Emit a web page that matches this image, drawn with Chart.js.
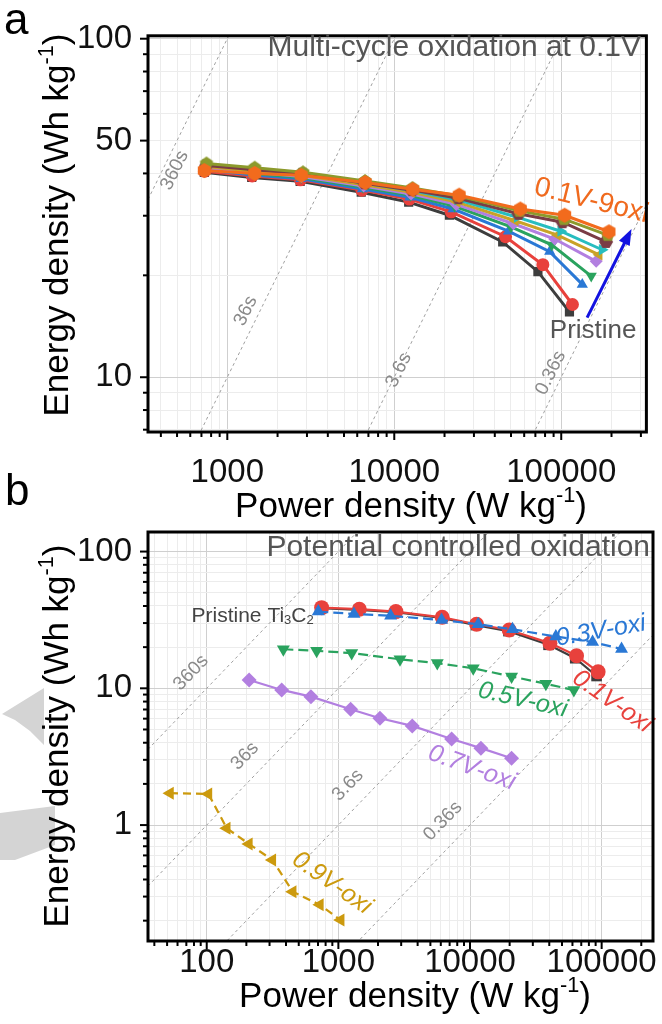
<!DOCTYPE html>
<html>
<head>
<meta charset="utf-8">
<script src="https://cdn.jsdelivr.net/npm/chart.js@4.4.1/dist/chart.umd.min.js"></script>
<style>
  html, body { margin: 0; padding: 0; background: #fff; }
  body { width: 662px; height: 1024px; position: relative; overflow: hidden; }
  canvas { position: absolute; left: 0; }
  #chartA { top: 0; }
  #chartB { top: 470px; }
</style>
</head>
<body>
<canvas id="chartA" width="662" height="540"></canvas>
<canvas id="chartB" width="662" height="554"></canvas>
<script>
const FONT = '"Liberation Sans", Arial, sans-serif';

// ---- panel a: multi-cycle oxidation at 0.1V ----
const namesA = ["Pristine", "0.1V-1oxi", "0.1V-2oxi", "0.1V-3oxi", "0.1V-4oxi",
  "0.1V-5oxi", "0.1V-6oxi", "0.1V-7oxi", "0.1V-8oxi", "0.1V-9oxi"];
const powerA = [
  [728, 1400, 2730, 6340, 12200, 21400, 44600, 72500, 112000],
  [730, 1410, 2740, 6400, 12300, 21900, 46400, 77600, 116700],
  [735, 1420, 2760, 6450, 12400, 22500, 48300, 85300, 133700],
  [738, 1430, 2770, 6500, 12500, 23000, 50000, 87700, 151200],
  [740, 1440, 2780, 6550, 12600, 23500, 51700, 91400, 161900],
  [742, 1445, 2790, 6600, 12700, 23800, 53000, 95000, 168700],
  [745, 1450, 2800, 6620, 12750, 24000, 54500, 99300, 175800],
  [748, 1455, 2820, 6650, 12800, 24200, 55500, 102000, 185500],
  [750, 1460, 2840, 6680, 12850, 24300, 56300, 104000, 190000],
  [728, 1458, 2768, 6700, 12900, 24470, 56900, 104800, 193200]
];
const energyA = [
  [40.3, 38.9, 37.9, 35.2, 32.9, 30.1, 25.1, 20.5, 15.6],
  [40.6, 39.3, 38.3, 35.7, 33.6, 30.8, 26.0, 21.5, 16.4],
  [41.0, 39.6, 38.6, 36.0, 34.0, 31.4, 27.0, 23.5, 18.8],
  [41.3, 40.0, 38.9, 36.4, 34.5, 32.0, 27.8, 24.6, 19.9],
  [41.6, 40.3, 39.2, 36.7, 34.8, 32.4, 28.4, 25.6, 22.0],
  [41.9, 40.6, 39.5, 37.0, 35.2, 32.9, 29.0, 26.3, 23.0],
  [42.5, 41.2, 40.0, 37.5, 35.6, 33.4, 29.7, 27.0, 23.8],
  [42.2, 41.0, 39.9, 37.4, 35.7, 33.8, 30.4, 28.7, 25.1],
  [42.8, 41.6, 40.3, 38.0, 36.2, 34.3, 31.0, 29.3, 26.3],
  [40.8, 40.0, 39.5, 37.6, 35.9, 34.5, 31.4, 30.1, 26.9]
];
const xLabelsA = [1000, 10000, 100000];
const yLabelsA = [10, 50, 100];

// ---- panel b: potential controlled oxidation ----
const namesB = ["Pristine Ti3C2", "0.1V-oxi", "0.3V-oxi", "0.5V-oxi", "0.7V-oxi", "0.9V-oxi"];
const powerB = [
  [740, 1430, 2720, 6100, 11100, 19600, 39500, 63000, 91500],
  [746, 1443, 2735, 6150, 11220, 19850, 40440, 64460, 94000],
  [704, 1313, 2494, 6081, 11540, 21040, 44870, 85300, 141600],
  [382, 684, 1262, 2939, 5640, 10580, 20690, 37690, 61500],
  [210, 371, 619, 1239, 2069, 3641, 7249, 12100, 20690],
  [52.6, 103, 142, 209, 315, 450, 724, 1041]
];
const energyB = [
  [38.5, 37.5, 36.0, 32.7, 29.0, 26.2, 20.8, 16.6, 12.3],
  [38.9, 37.9, 36.4, 33.1, 29.4, 26.7, 21.4, 17.3, 13.2],
  [36.4, 35.0, 33.9, 31.6, 29.4, 27.0, 23.9, 21.8, 19.4],
  [19.3, 18.8, 18.1, 16.3, 15.3, 14.0, 12.2, 10.8, 9.7],
  [11.5, 9.73, 8.69, 7.03, 6.04, 5.31, 4.26, 3.65, 3.08],
  [1.71, 1.69, 0.948, 0.728, 0.556, 0.326, 0.261, 0.202]
];
const xLabelsB = [100, 1000, 10000, 100000];
const yLabelsB = [1, 10, 100];

// constant discharge-time guide lines (s)
const isoTimes = [360, 36, 3.6, 0.36];

function polyMarker(color, sides, r, rot) {
  const c = document.createElement("canvas");
  const s = Math.ceil(r * 2 + 2);
  c.width = s; c.height = s;
  const g = c.getContext("2d");
  g.fillStyle = color;
  g.beginPath();
  for (let i = 0; i < sides; i++) {
    const a = rot + i * 2 * Math.PI / sides;
    g.lineTo(s / 2 + r * Math.cos(a), s / 2 + r * Math.sin(a));
  }
  g.closePath();
  g.fill();
  return c;
}

const stylesA = [
  { color: "#3d3d3d", shape: "rect", rot: 0 },
  { color: "#e8413c", shape: "circle", rot: 0 },
  { color: "#2a78d5", shape: "triangle", rot: 0 },
  { color: "#2aa35e", shape: "triangle", rot: 180 },
  { color: "#b27fe0", shape: "rectRot", rot: 0 },
  { color: "#c9a227", shape: "triangle", rot: 270 },
  { color: "#27bdbf", shape: "triangle", rot: 90 },
  { color: "#7a3c45", shape: polyMarker("#7a3c45", 6, 7, 0), rot: 0 },
  { color: "#8c9a2c", shape: polyMarker("#8c9a2c", 5, 7, -Math.PI / 2), rot: 0 },
  { color: "#f26b1d", shape: polyMarker("#f26b1d", 6, 7.5, Math.PI / 6), rot: 0 }
];
const stylesB = [
  { color: "#3d3d3d", shape: "rect", rot: 0, dash: [] },
  { color: "#e8413c", shape: "circle", rot: 0, dash: [] },
  { color: "#2a78d5", shape: "triangle", rot: 0, dash: [10, 5] },
  { color: "#2aa35e", shape: "triangle", rot: 180, dash: [10, 5] },
  { color: "#b27fe0", shape: "rectRot", rot: 0, dash: [] },
  { color: "#cc9a0e", shape: "triangle", rot: 270, dash: [8, 5] }
];

function makeSets(names, powers, energies, styles, lw, r) {
  return names.map((name, i) => ({
    label: name,
    data: powers[i].map((p, j) => ({ x: p, y: energies[i][j] })),
    borderColor: styles[i].color,
    backgroundColor: styles[i].color,
    borderWidth: lw,
    borderDash: styles[i].dash || [],
    pointStyle: styles[i].shape,
    pointRotation: styles[i].rot,
    pointRadius: r,
    pointBackgroundColor: styles[i].color,
    pointBorderColor: styles[i].color,
    pointBorderWidth: 0,
    tension: 0,
    fill: false
  }));
}

function logTicks(lo, hi) {
  const out = [];
  for (let e = Math.floor(Math.log10(lo)); e <= Math.ceil(Math.log10(hi)); e++) {
    for (let m = 1; m <= 9; m++) {
      const v = Number((m * Math.pow(10, e)).toPrecision(6));
      if (v >= lo && v <= hi) out.push(v);
    }
  }
  return out;
}

function isMajor(v) {
  const l = Math.log10(v);
  return Math.abs(l - Math.round(l)) < 1e-9;
}

function fontOf(size, style) { return (style ? style + " " : "") + size + "px " + FONT; }

function drawRuns(ctx, runs, x, y, size, color, deg, align, style) {
  ctx.save();
  ctx.translate(x, y);
  ctx.rotate(deg * Math.PI / 180);
  ctx.fillStyle = color;
  ctx.textBaseline = "middle";
  ctx.textAlign = "left";
  let w = 0;
  runs.forEach(([t, k]) => { ctx.font = fontOf(k ? size * 0.62 : size, style); w += ctx.measureText(t).width; });
  let cx = align === "right" ? -w : align === "left" ? 0 : -w / 2;
  runs.forEach(([t, k]) => {
    ctx.font = fontOf(k ? size * 0.62 : size, style);
    const dy = k === "sup" ? -size * 0.3 : k === "sub" ? size * 0.22 : 0;
    ctx.fillText(t, cx, dy);
    cx += ctx.measureText(t).width;
  });
  ctx.restore();
}

function makeDeco(cfg) {
  const oy = cfg.offsetY || 0;
  return {
    id: "deco",
    beforeDraw(chart) {
      const ctx = chart.ctx;
      if (cfg.shapes) {
        ctx.save();
        ctx.fillStyle = "#d4d4d4";
        cfg.shapes.forEach(pts => {
          ctx.beginPath();
          pts.forEach(([x, y], i) => i ? ctx.lineTo(x, y - oy) : ctx.moveTo(x, y - oy));
          ctx.closePath();
          ctx.fill();
        });
        ctx.restore();
      }
    },
    beforeDatasetsDraw(chart) {
      const ctx = chart.ctx, a = chart.chartArea, xs = chart.scales.x, ys = chart.scales.y;
      ctx.save();
      ctx.beginPath();
      ctx.rect(a.left, a.top, a.right - a.left, a.bottom - a.top);
      ctx.clip();
      ctx.strokeStyle = "#a0a0a0";
      ctx.lineWidth = 1;
      ctx.setLineDash([3, 3]);
      isoTimes.forEach(t => {
        const p1 = xs.min, p2 = xs.max;
        ctx.beginPath();
        ctx.moveTo(xs.getPixelForValue(p1), ys.getPixelForValue(p1 * t / 3600));
        ctx.lineTo(xs.getPixelForValue(p2), ys.getPixelForValue(p2 * t / 3600));
        ctx.stroke();
      });
      ctx.restore();
    },
    afterDatasetsDraw(chart) {
      const ctx = chart.ctx, xs = chart.scales.x, ys = chart.scales.y;
      cfg.isoLabels.forEach(l => {
        const x1 = xs.getPixelForValue(1000), y1 = ys.getPixelForValue(1000 * l.t / 3600);
        const x2 = xs.getPixelForValue(10000), y2 = ys.getPixelForValue(10000 * l.t / 3600);
        const deg = Math.atan2(y2 - y1, x2 - x1) * 180 / Math.PI;
        drawRuns(ctx, [[l.t + "s", ""]], xs.getPixelForValue(l.p), ys.getPixelForValue(l.e), 19, "#8a8a8a", deg, "center");
      });
      cfg.notes.forEach(n => {
        drawRuns(ctx, n.runs, xs.getPixelForValue(n.p), ys.getPixelForValue(n.e), n.size, n.color, n.rot, n.align || "center", n.style);
      });
      if (cfg.arrow) {
        const ar = cfg.arrow;
        const x1 = xs.getPixelForValue(ar.p1), y1 = ys.getPixelForValue(ar.e1);
        const x2 = xs.getPixelForValue(ar.p2), y2 = ys.getPixelForValue(ar.e2);
        const ang = Math.atan2(y2 - y1, x2 - x1);
        ctx.save();
        ctx.strokeStyle = ar.color;
        ctx.fillStyle = ar.color;
        ctx.lineWidth = 3;
        ctx.beginPath();
        ctx.moveTo(x1, y1);
        ctx.lineTo(x2 - 10 * Math.cos(ang), y2 - 10 * Math.sin(ang));
        ctx.stroke();
        ctx.beginPath();
        ctx.moveTo(x2, y2);
        ctx.lineTo(x2 - 16 * Math.cos(ang) + 6 * Math.sin(ang), y2 - 16 * Math.sin(ang) - 6 * Math.cos(ang));
        ctx.lineTo(x2 - 16 * Math.cos(ang) - 6 * Math.sin(ang), y2 - 16 * Math.sin(ang) + 6 * Math.cos(ang));
        ctx.closePath();
        ctx.fill();
        ctx.restore();
      }
    },
    afterDraw(chart) {
      const ctx = chart.ctx, a = chart.chartArea, xs = chart.scales.x, ys = chart.scales.y;
      ctx.save();
      ctx.strokeStyle = "#000";
      ctx.lineWidth = 2;
      xs.ticks.forEach(t => {
        const px = xs.getPixelForValue(t.value);
        const len = cfg.xLabels.includes(t.value) ? 8 : 5;
        ctx.beginPath(); ctx.moveTo(px, a.bottom); ctx.lineTo(px, a.bottom + len); ctx.stroke();
      });
      ys.ticks.forEach(t => {
        const py = ys.getPixelForValue(t.value);
        const len = cfg.yLabels.includes(t.value) ? 8 : 5;
        ctx.beginPath(); ctx.moveTo(a.left, py); ctx.lineTo(a.left - len, py); ctx.stroke();
      });
      ctx.lineWidth = 3;
      ctx.strokeRect(a.left, a.top, a.right - a.left, a.bottom - a.top);
      ctx.restore();

      drawRuns(ctx, [[cfg.title.text, ""]], cfg.title.x, cfg.title.y - oy, 30, "#555", 0, "right");
      drawRuns(ctx, [["Power density (W kg", ""], ["-1", "sup"], [")", ""]], cfg.xTitle.x, cfg.xTitle.y - oy, 35, "#000", 0, "center");
      drawRuns(ctx, [["Energy density (Wh kg", ""], ["-1", "sup"], [")", ""]], cfg.yTitle.x, cfg.yTitle.y - oy, 35, "#000", -90, "center");
      ctx.save();
      ctx.fillStyle = "#000";
      ctx.font = fontOf(44);
      ctx.textBaseline = "alphabetic";
      ctx.textAlign = "left";
      ctx.fillText(cfg.letter.text, cfg.letter.x, cfg.letter.y - oy);
      ctx.restore();
    }
  };
}

function gridColor(c) {
  return c.tick && isMajor(c.tick.value) ? "#cfcfcf" : "#ececec";
}

function makeChart(id, sets, lim, lab, dims, deco) {
  return new Chart(document.getElementById(id), {
    type: "line",
    data: { datasets: sets },
    options: {
      responsive: false,
      animation: false,
      devicePixelRatio: 1,
      layout: { padding: { top: dims.top, right: 9, left: 0, bottom: 0 } },
      plugins: { legend: { display: false }, tooltip: { enabled: false } },
      scales: {
        x: {
          type: "logarithmic",
          min: lim.xMin, max: lim.xMax,
          afterBuildTicks: s => { s.ticks = logTicks(lim.xMin, lim.xMax).map(v => ({ value: v })); },
          afterFit: s => { s.height = dims.xHeight; },
          ticks: {
            callback: v => lab.x.includes(v) ? String(v) : "",
            autoSkip: false, maxRotation: 0, minRotation: 0,
            padding: dims.xPad, color: "#111", font: { family: FONT, size: 33 }
          },
          grid: { drawTicks: false, color: gridColor, lineWidth: 1 },
          border: { display: false }
        },
        y: {
          type: "logarithmic",
          min: lim.yMin, max: lim.yMax,
          afterBuildTicks: s => { s.ticks = logTicks(lim.yMin, lim.yMax).map(v => ({ value: v })); },
          afterFit: s => { s.width = 148; },
          ticks: {
            callback: v => lab.y.includes(v) ? String(v) : "",
            autoSkip: false, padding: 16, color: "#111", font: { family: FONT, size: 33 }
          },
          grid: { drawTicks: false, color: gridColor, lineWidth: 1 },
          border: { display: false }
        }
      }
    },
    plugins: [deco]
  });
}

// panel a
makeChart("chartA",
  makeSets(namesA, powerA, energyA, stylesA, 3, 6.5).reverse(),
  { xMin: 335, xMax: 323600, yMin: 6.89, yMax: 102 },
  { x: xLabelsA, y: yLabelsA },
  { top: 32, xHeight: 108, xPad: 21 },
  makeDeco({
    xLabels: xLabelsA, yLabels: yLabelsA,
    isoLabels: [
      { t: 360, p: 484, e: 40.8 }, { t: 36, p: 1290, e: 15.7 },
      { t: 3.6, p: 10630, e: 10.5 }, { t: 0.36, p: 86500, e: 10.3 }
    ],
    notes: [
      { runs: [["0.1V-9oxi", ""]], p: 152000, e: 33.2, size: 28, color: "#f06a1e", rot: 14 },
      { runs: [["Pristine", ""]], p: 155300, e: 13.7, size: 26, color: "#555", rot: 0 }
    ],
    arrow: { p1: 142900, e1: 15.0, p2: 263600, e2: 27.4, color: "#1212e0" },
    title: { text: "Multi-cycle oxidation at 0.1V", x: 641, y: 48 },
    xTitle: { x: 411, y: 507 },
    yTitle: { x: 58, y: 225 },
    letter: { text: "a", x: 4, y: 34 }
  })
);

// panel b (canvas starts at page y = 470)
makeChart("chartB",
  makeSets(namesB, powerB, energyB, stylesB, 2.2, 7.5).reverse(),
  { xMin: 35.8, xMax: 245500, yMin: 0.142, yMax: 139 },
  { x: xLabelsB, y: yLabelsB },
  { top: 62, xHeight: 83, xPad: 2 },
  makeDeco({
    offsetY: 470,
    xLabels: xLabelsB, yLabels: yLabelsB,
    isoLabels: [
      { t: 360, p: 76, e: 13.0 }, { t: 36, p: 195, e: 3.2 },
      { t: 3.6, p: 1183, e: 1.96 }, { t: 0.36, p: 6220, e: 1.07 }
    ],
    notes: [
      { runs: [["Pristine Ti", ""], ["3", "sub"], ["C", ""], ["2", "sub"]], p: 650, e: 33.9, size: 21, color: "#444", rot: 0, align: "right" },
      { runs: [["0.3V-oxi", ""]], p: 98600, e: 26.2, size: 25, color: "#2a78d5", rot: -10, style: "italic" },
      { runs: [["0.1V-oxi", ""]], p: 120000, e: 8.0, size: 25, color: "#e8413c", rot: 35, style: "italic" },
      { runs: [["0.5V-oxi", ""]], p: 25200, e: 8.2, size: 25, color: "#2aa35e", rot: 13, style: "italic" },
      { runs: [["0.7V-oxi", ""]], p: 10330, e: 2.62, size: 25, color: "#b27fe0", rot: 20, style: "italic" },
      { runs: [["0.9V-oxi", ""]], p: 893, e: 0.377, size: 25, color: "#cc9a0e", rot: 35, style: "italic" }
    ],
    shapes: [
      [[2, 714], [44, 688], [44, 745], [30, 731], [15, 720]],
      [[0, 813], [55, 806], [55, 845], [15, 860], [0, 860]]
    ],
    title: { text: "Potential controlled oxidation", x: 650, y: 548 },
    xTitle: { x: 415, y: 997 },
    yTitle: { x: 58, y: 736 },
    letter: { text: "b", x: 5, y: 505 }
  })
);
</script>
</body>
</html>
